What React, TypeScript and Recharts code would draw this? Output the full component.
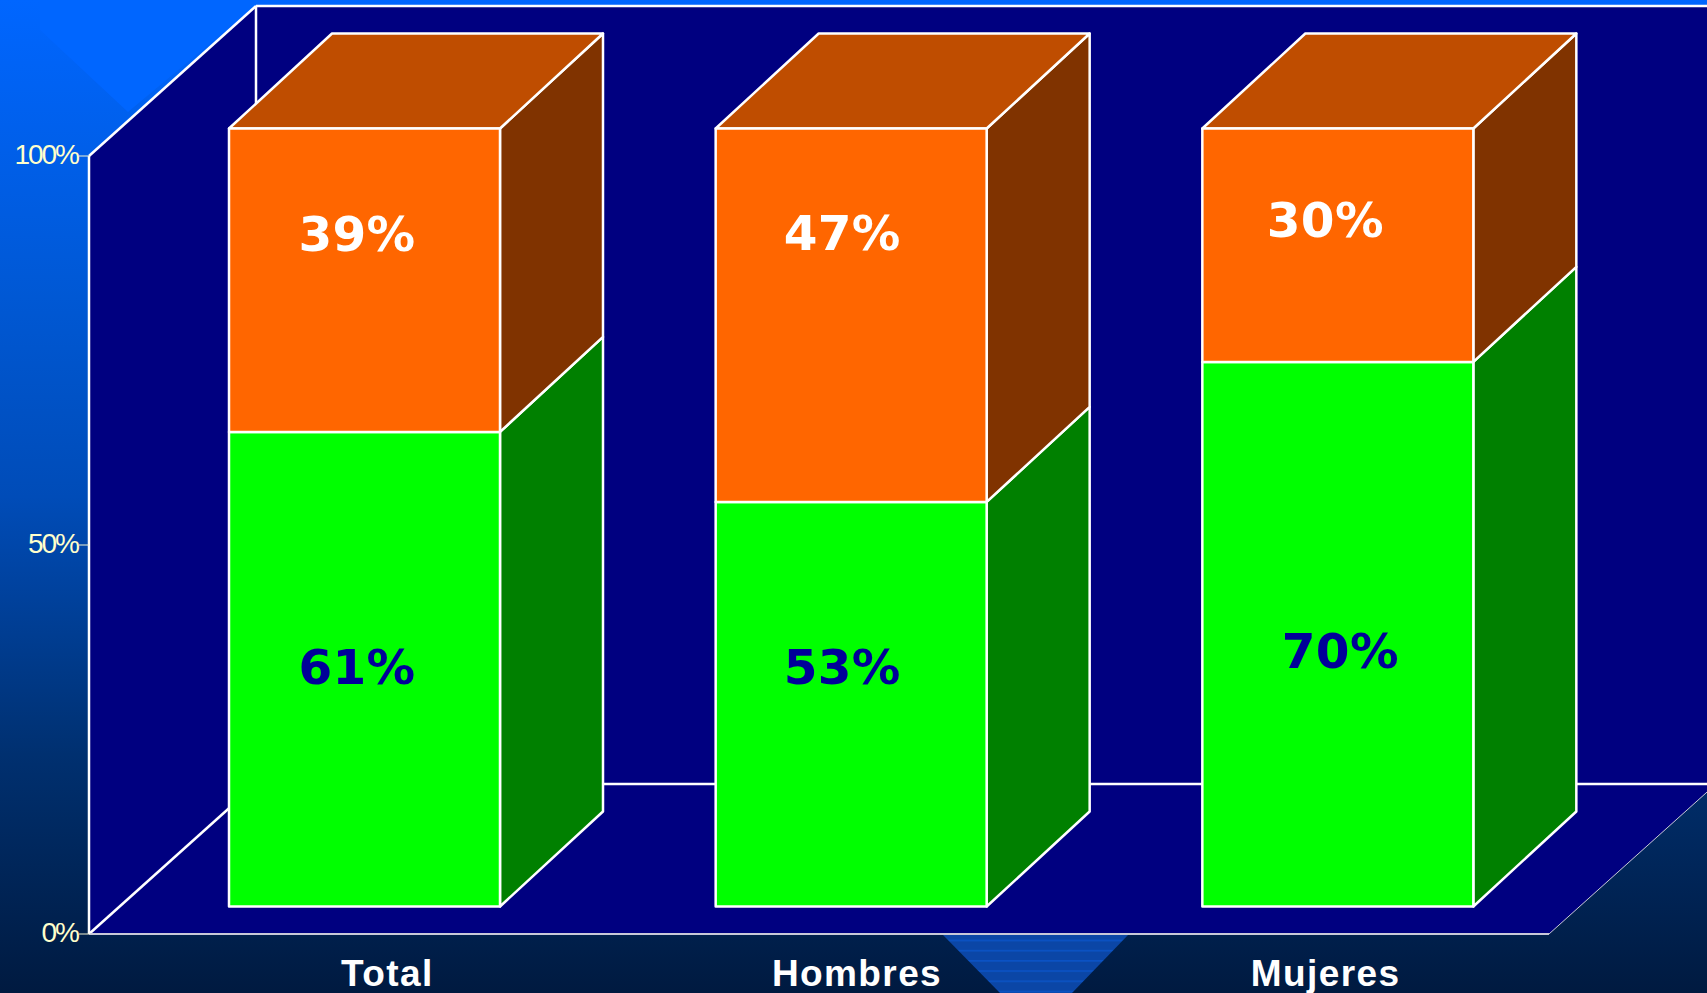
import React from "react";
import { BarChart, Bar, XAxis, YAxis, LabelList, usePlotArea } from "recharts";

const categories = ["Total", "Hombres", "Mujeres"];
const greenValues = [61, 52, 70];
const orangeValues = [39, 48, 30];
const greenLabels = ["61%", "53%", "70%"];
const orangeLabels = ["39%", "47%", "30%"];
const yTicks = [0, 50, 100];

const data = categories.map((name, i) => ({
  name,
  green: greenValues[i],
  orange: orangeValues[i],
  greenLabel: greenLabels[i],
  orangeLabel: orangeLabels[i],
}));

// layout constants
const WALL_DX = 167;
const WALL_DY = 150;
const BAR_SHIFT_X = 32;
const BAR_SHIFT_Y = -27.5;
const BAR_DX = 103;
const BAR_DY = 95;
const GREEN_OFFSETS = [[-7.5, -2], [-9, -37], [2.5, 17]];
const ORANGE_OFFSETS = [[-7.5, -46], [-9, -82], [-12.5, -25]];
const CAT_OFFSETS = [55, 38, 20];

const pts = (a: number[][]) => a.map((p) => p.join(",")).join(" ");

function Walls() {
  const pa = usePlotArea();
  if (!pa) return null;
  const l = pa.x, t = pa.y, r = pa.x + pa.width, b = pa.y + pa.height;
  const navy = "#000080";
  return (
    <g>
      <defs>
        <pattern id="hatch" width="10" height="10.2" patternUnits="userSpaceOnUse" y="935">
          <rect width="10" height="10.2" fill="#0b46a6" />
          <rect y="5" width="10" height="1" fill="#0a5ad8" />
        </pattern>
      </defs>
      <polygon points="40,30 128,112 262,0 40,0" fill="#0066ff" />
      <polygon points="943,935 1128,935 1072,993 1000,993" fill="url(#hatch)" />
      <polygon points={pts([[l, t], [l + WALL_DX, t - WALL_DY], [r + WALL_DX, t - WALL_DY], [r + WALL_DX, b - WALL_DY], [r, b], [l, b]])} fill={navy} />
      <line x1={l} y1={t} x2={l + WALL_DX} y2={t - WALL_DY} stroke="#fff" strokeWidth={2.5} />
      <line x1={l + WALL_DX} y1={t - WALL_DY} x2={r + WALL_DX} y2={t - WALL_DY} stroke="#fff" strokeWidth={2.5} />
      <line x1={l + WALL_DX} y1={t - WALL_DY} x2={l + WALL_DX} y2={b - WALL_DY} stroke="#fff" strokeWidth={2.5} />
      <line x1={l} y1={b} x2={l + WALL_DX} y2={b - WALL_DY} stroke="#fff" strokeWidth={2.5} />
      <line x1={l + WALL_DX} y1={b - WALL_DY} x2={r + WALL_DX} y2={b - WALL_DY} stroke="#fff" strokeWidth={2.5} />
      <line x1={r} y1={b} x2={r + WALL_DX} y2={b - WALL_DY} stroke="#c8c8d8" strokeWidth={1} />
    </g>
  );
}

function makeBox(front: string, side: string, top: string | null) {
  return function Box(props: any) {
    const x = props.x + BAR_SHIFT_X;
    const y = props.y + BAR_SHIFT_Y;
    const w = props.width;
    const h = props.height;
    const sw = { stroke: "#fff", strokeWidth: 2.5, strokeLinejoin: "round" as const };
    return (
      <g>
        <polygon points={pts([[x + w, y], [x + w + BAR_DX, y - BAR_DY], [x + w + BAR_DX, y + h - BAR_DY], [x + w, y + h]])} fill={side} {...sw} />
        {top && <polygon points={pts([[x, y], [x + BAR_DX, y - BAR_DY], [x + w + BAR_DX, y - BAR_DY], [x + w, y]])} fill={top} {...sw} />}
        <rect x={x} y={y} width={w} height={h} fill={front} {...sw} />
      </g>
    );
  };
}

const GreenBox = makeBox("#00ff00", "#008000", null);
const OrangeBox = makeBox("#ff6600", "#803300", "#bf4d00");

function makeLabel(color: string, offsets: number[][]) {
  return function Lbl(props: any) {
    const { x, y, width, height, value, index } = props;
    return (
      <text
        x={x + BAR_SHIFT_X + width / 2 + offsets[index][0]}
        y={y + BAR_SHIFT_Y + height / 2 + offsets[index][1]}
        fill={color}
        textAnchor="middle"
        dominantBaseline="central"
        fontFamily="'DejaVu Sans'"
        fontWeight="bold"
        fontSize={48.5}
        letterSpacing={0.3}
      >
        {value}
      </text>
    );
  };
}

const CatTick = (props: any) => {
  const { x, payload, index } = props;
  return (
    <text
      x={x + CAT_OFFSETS[index]}
      y={985.5}
      fill="#fff"
      textAnchor="middle"
      fontFamily="'Liberation Sans'"
      fontWeight="bold"
      fontSize={37}
      letterSpacing={1.4}
    >
      {payload.value}
    </text>
  );
};

export default function App() {
  return (
    <div
      style={{
        position: "fixed",
        left: 0,
        top: 0,
        width: 1707,
        height: 993,
        overflow: "hidden",
        background:
          "linear-gradient(180deg, #0066ff 0%, #0058d4 30%, #004cb8 50%, #003070 76%, #001a40 100%)",
      }}
    >
      <BarChart
        width={1707}
        height={993}
        data={data}
        margin={{ top: 156, right: 158, bottom: 0, left: 0 }}
        barCategoryGap={0}
        style={{ position: "absolute", left: 0, top: 0 }}
      >
        <Walls />
        <XAxis
          dataKey="name"
          height={59}
          axisLine={{ stroke: "#c8c8d8", strokeWidth: 2 }}
          tickLine={false}
          tick={<CatTick />}
          interval={0}
        />
        <YAxis
          width={89}
          domain={[0, 100]}
          ticks={yTicks}
          tickFormatter={(v: number) => `${v}%`}
          axisLine={{ stroke: "#fff", strokeWidth: 2.5 }}
          tickLine={{ stroke: "#f4f4d0", strokeWidth: 1 }}
          tickSize={10}
          tickMargin={1}
          tick={{ fill: "#ffffcc", fontFamily: "'Liberation Sans'", fontSize: 28, letterSpacing: -2, dy: -2 }}
        />
        <Bar dataKey="green" stackId="a" barSize={271} shape={<GreenBox />} isAnimationActive={false}>
          <LabelList dataKey="greenLabel" content={makeLabel("#000099", GREEN_OFFSETS)} />
        </Bar>
        <Bar dataKey="orange" stackId="a" barSize={271} shape={<OrangeBox />} isAnimationActive={false}>
          <LabelList dataKey="orangeLabel" content={makeLabel("#ffffff", ORANGE_OFFSETS)} />
        </Bar>
      </BarChart>
    </div>
  );
}
